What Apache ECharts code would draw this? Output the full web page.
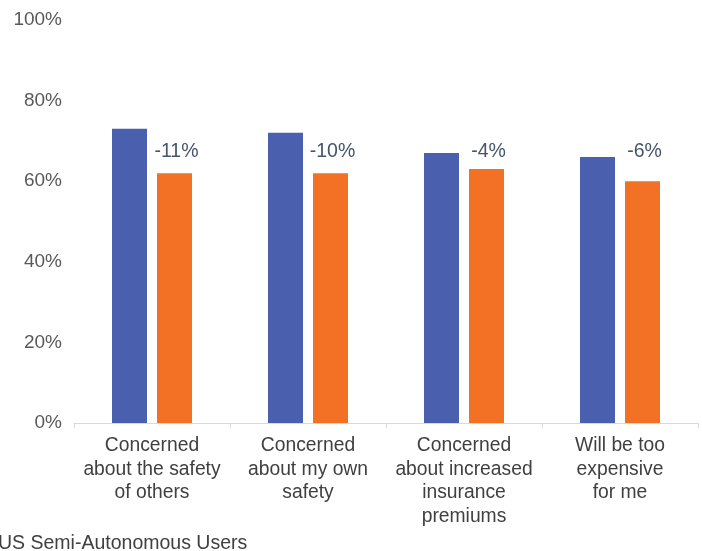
<!DOCTYPE html>
<html>
<head>
<meta charset="utf-8">
<script src="https://cdn.jsdelivr.net/npm/echarts@6/dist/echarts.min.js"></script>
<style>html,body{margin:0;padding:0;background:#fff;}#c{width:702px;height:551px;}</style>
</head>
<body>
<div id="c"></div>
<script>
var categories = [
  "Concerned\nabout the safety\nof others",
  "Concerned\nabout my own\nsafety",
  "Concerned\nabout increased\ninsurance\npremiums",
  "Will be too\nexpensive\nfor me"
];
var seriesA = [73, 72, 67, 66];
var seriesB = [62, 62, 63, 60];
var changeLabels = ["-11%", "-10%", "-4%", "-6%"];
var yTicks = [0, 20, 40, 60, 80, 100];

var FONT = "'Liberation Sans', Arial, sans-serif";
var BAR_W = 35, BAR_GAP = 10, LABEL_LEVEL = 67.3;

var chart = echarts.init(document.getElementById('c'));
chart.setOption({
  animation: false,
  textStyle: { fontFamily: FONT },
  title: {
    text: "US Semi-Autonomous Users",
    left: -7, top: 529,
    textStyle: { fontFamily: FONT, fontSize: 19.5, fontWeight: 'normal', color: '#404040' }
  },
  grid: { left: 74, right: 4, top: 20, bottom: 128, containLabel: false },
  xAxis: {
    type: 'category',
    data: categories,
    axisLine: { lineStyle: { color: '#d9d9d9', width: 1 } },
    axisTick: { show: true, length: 5, lineStyle: { color: '#d9d9d9' } },
    axisLabel: { interval: 0, fontFamily: FONT, fontSize: 19.3, color: '#404040', lineHeight: 23.5, margin: 11 }
  },
  yAxis: {
    type: 'value',
    min: yTicks[0], max: yTicks[yTicks.length - 1], interval: yTicks[1] - yTicks[0],
    splitLine: { show: false },
    axisLine: { show: false },
    axisTick: { show: false },
    axisLabel: { formatter: '{value}%', fontFamily: FONT, fontSize: 19, color: '#595959', margin: 12 }
  },
  series: [
    { type: 'bar', data: seriesA, barWidth: BAR_W, itemStyle: { color: '#4A60AE' } },
    { type: 'bar', data: seriesB, barWidth: BAR_W, barGap: (BAR_GAP / BAR_W * 100) + '%', itemStyle: { color: '#F37124' } },
    {
      type: 'custom',
      data: changeLabels.map(function (t, i) { return [i, LABEL_LEVEL, t]; }),
      renderItem: function (params, api) {
        var p = api.coord([api.value(0), api.value(1)]);
        return {
          type: 'text',
          style: {
            x: p[0] + (BAR_W + BAR_GAP) / 2 + 2, y: p[1],
            text: changeLabels[params.dataIndex],
            textAlign: 'center', textVerticalAlign: 'middle',
            font: '19.5px ' + FONT, fill: '#44546A'
          }
        };
      },
      z: 10
    }
  ]
});
</script>
</body>
</html>
